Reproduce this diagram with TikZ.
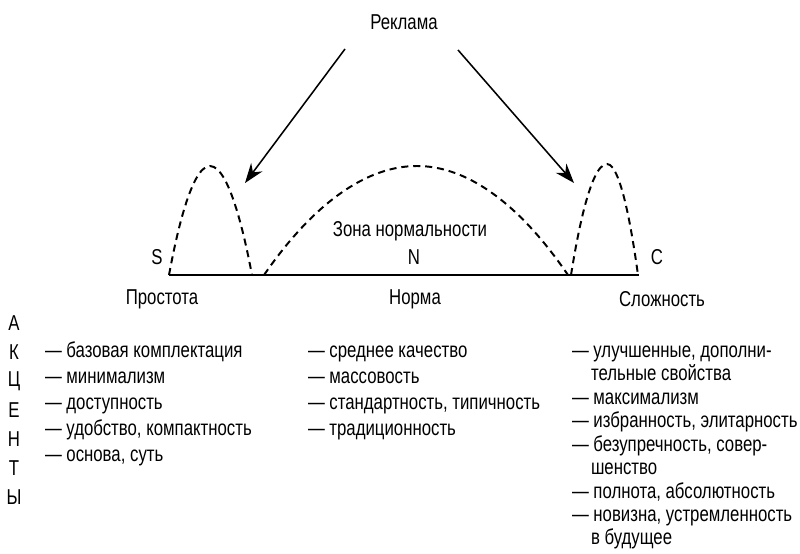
\documentclass[tikz,border=0pt]{standalone}
\usepackage{fontspec}
\setmainfont{Liberation Sans}[FakeStretch=0.78]
\usetikzlibrary{arrows.meta}
\begin{document}
\begin{tikzpicture}[x=0.025cm,y=-0.025cm,every node/.style={inner sep=0pt, outer sep=0pt, font=\fontsize{15.3}{18}\selectfont},
  hump/.style={line width=1.4pt,dash pattern=on 5pt off 3.5pt},
  item/.style={anchor=base west,yshift=-0.14cm},
  push/.style={line width=1.1pt,-{Stealth[length=14pt,width=10pt]}}]
\useasboundingbox (0,0) rectangle (800,553);
% top label and arrows
\node (ad) at (404,22) {Реклама};
\coordinate (adl) at (345,49);
\coordinate (adr) at (458,50);
\coordinate (tipl) at (245,183);
\coordinate (tipr) at (574,183);
\draw[push] (adl) -- (tipl);
\draw[push] (adr) -- (tipr);
% axis
\coordinate (sl) at (169,275);
\coordinate (cr) at (639,275);
\draw[line width=1.2pt] (sl) -- (cr);
% zones
\draw[hump] (169,275) parabola bend (210,166) (252,275);
\draw[hump] (264,275) parabola bend (417,166) (568,275);
\draw[hump] (571,275) parabola bend (607,164) (638,275);
\node (s) at (157,257) {S};
\node (n) at (414,257) {N};
\node (c) at (657,257) {C};
\node (zone) at (410,231) {Зона нормальности};
\node (simple) at (162,299) {Простота};
\node (norm) at (415,299) {Норма};
\node (complex) at (662,299) {Сложность};
% vertical word
\node (a1) at (14,323) {А};
\node (a2) at (14,352) {К};
\node (a3) at (14,381) {Ц};
\node (a4) at (14,410) {Е};
\node (a5) at (14,439) {Н};
\node (a6) at (14,468) {Т};
\node (a7) at (14,497) {Ы};
% left column
\node[item] (l1) at (45,352) {— базовая комплектация};
\node[item] (l2) at (45,378) {— минимализм};
\node[item] (l3) at (45,404) {— доступность};
\node[item] (l4) at (45,430) {— удобство, компактность};
\node[item] (l5) at (45,456) {— основа, суть};
% middle column
\node[item] (m1) at (308,352) {— среднее качество};
\node[item] (m2) at (308,378) {— массовость};
\node[item] (m3) at (308,404) {— стандартность, типичность};
\node[item] (m4) at (308,430) {— традиционность};
% right column
\node[item] (r1) at (572,352) {— улучшенные, дополни-};
\node[item] (r1b) at (591,375) {тельные свойства};
\node[item] (r2) at (572,399) {— максимализм};
\node[item] (r3) at (572,422) {— избранность, элитарность};
\node[item] (r4) at (572,446) {— безупречность, совер-};
\node[item] (r4b) at (591,469) {шенство};
\node[item] (r5) at (572,493) {— полнота, абсолютность};
\node[item] (r6) at (572,516) {— новизна, устремленность};
\node[item] (r6b) at (591,539) {в будущее};
\end{tikzpicture}
\end{document}
